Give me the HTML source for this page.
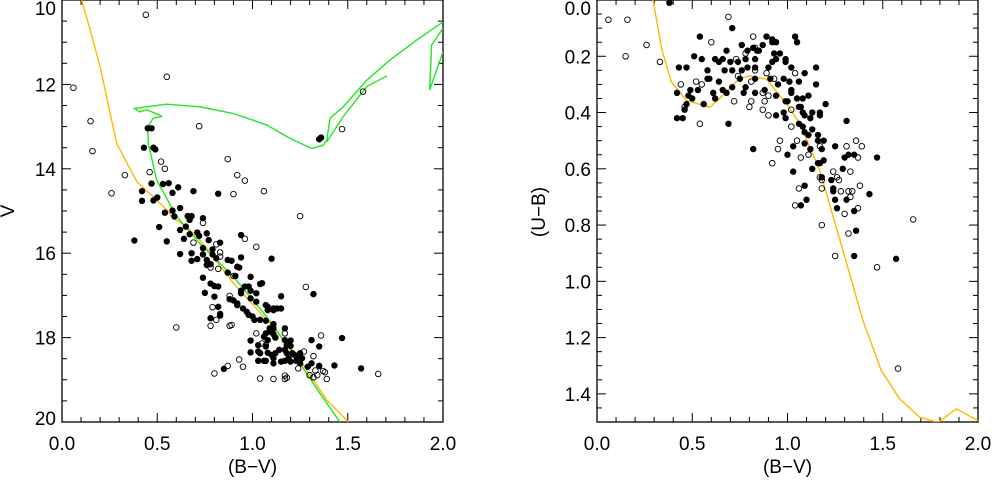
<!DOCTYPE html>
<html><head><meta charset="utf-8"><style>
body{margin:0;background:#fff;}
svg{display:block;font-family:"Liberation Sans",sans-serif;}
</style></head><body>
<svg id="c" width="992" height="481" viewBox="0 0 992 481"></svg>
<script>
const cmdFilled=[[.45,13.04],[.47,13.04],[.43,13.5],[.48,13.5],[.49,13.54],[1.35,13.3],[1.36,13.26],[.47,14.35],[.53,14.36],[.56,14.34],[.61,14.44],[.58,14.57],[.69,14.53],[.82,14.59],[.42,14.53],[.42,14.76],[.48,14.75],[.5,14.68],[.54,15.04],[.59,15.13],[.58,14.99],[.62,14.93],[.51,15.38],[.55,15.72],[.38,15.7],[.62,15.45],[.65,15.37],[.64,15.66],[.67,15.55],[.67,15.21],[.66,15.12],[.68,15.12],[.71,15.51],[.72,15.59],[.74,15.17],[.76,15.53],[.77,15.69],[.83,15.75],[.62,16.02],[.68,16.0],[.68,16.18],[.71,16.14],[.74,15.88],[.74,16.03],[.76,16.16],[.76,16.28],[.79,15.91],[.79,16.03],[.81,16.12],[.78,16.26],[.74,16.58],[.75,16.94],[.78,16.72],[.8,16.78],[.82,16.79],[.8,17.03],[.82,17.27],[.78,17.54],[.83,17.44],[.83,17.48],[.87,16.16],[.89,16.18],[.92,16.32],[.93,16.34],[.94,16.1],[.94,15.57],[.87,16.46],[.91,16.54],[.88,17.09],[.9,17.12],[.92,17.19],[.92,17.23],[.94,16.89],[.94,16.95],[.96,16.79],[.98,16.79],[.95,17.31],[.97,17.39],[.99,16.56],[.99,16.89],[.99,17.07],[1.0,17.5],[1.01,17.58],[.98,17.46],[1.02,16.95],[1.02,17.15],[1.04,16.73],[1.05,16.71],[1.1,16.13],[1.07,17.23],[1.08,17.27],[1.11,17.31],[1.08,17.35],[1.11,17.35],[1.13,17.31],[1.15,17.02],[1.15,17.31],[1.32,16.97],[1.04,17.58],[1.07,17.6],[1.09,17.78],[1.11,17.68],[1.11,17.78],[1.09,17.86],[1.07,17.9],[1.06,17.98],[1.08,18.06],[1.11,17.92],[1.12,18.0],[.99,18.07],[.99,18.35],[1.03,18.18],[1.03,18.33],[1.04,18.37],[1.07,18.21],[1.08,18.36],[1.1,18.41],[1.12,18.37],[1.14,18.29],[1.17,17.78],[1.17,18.06],[1.18,18.18],[1.2,18.07],[1.2,18.2],[1.17,18.29],[1.18,18.37],[1.21,18.37],[1.03,18.55],[1.06,18.55],[1.07,18.55],[1.11,18.61],[1.11,18.49],[1.15,18.57],[1.17,18.55],[1.19,18.49],[1.2,18.57],[.85,18.74],[1.22,18.41],[1.23,18.44],[1.25,18.37],[1.26,18.49],[1.23,18.55],[1.25,18.61],[1.29,18.69],[1.31,18.61],[1.31,18.06],[1.35,18.21],[1.35,18.67],[1.43,18.66],[1.47,18.01],[1.57,18.73]];
const cmdOpen=[[.44,10.35],[.55,11.82],[.06,12.08],[.15,12.87],[.16,13.58],[.72,12.99],[.33,14.15],[.26,14.58],[.46,14.08],[.52,13.83],[.54,14.0],[.87,13.77],[.92,14.15],[.96,14.28],[.9,14.6],[1.06,14.53],[1.25,15.12],[1.58,12.17],[1.47,13.06],[.74,15.28],[.69,15.75],[.81,15.79],[.83,15.98],[.83,16.08],[.96,15.66],[1.02,15.85],[.78,16.34],[.82,16.37],[.9,16.54],[.88,17.01],[.79,17.28],[.81,17.58],[.78,17.72],[.88,17.72],[.89,17.7],[.6,17.76],[1.28,16.8],[1.02,17.9],[1.05,18.14],[1.07,18.18],[1.17,17.9],[1.36,17.95],[1.27,18.33],[1.32,18.44],[.93,18.52],[.87,18.67],[.95,18.69],[.8,18.85],[1.04,18.97],[1.11,18.98],[1.17,18.9],[1.17,18.98],[1.18,18.95],[1.24,18.73],[1.3,18.89],[1.33,18.78],[1.34,18.89],[1.37,18.79],[1.38,18.82],[1.39,18.98],[1.32,18.94],[1.66,18.86]];
const cmdZams=[[.103,10],[.138,10.55],[.2,11.58],[.287,13.4],[.392,14.3],[.497,14.74],[.55,14.98],[.585,15.17],[.654,15.37],[.724,15.69],[.9,16.71],[1.075,17.58],[1.25,18.53],[1.39,19.48],[1.504,20]];
const cmdIso=[[1.459,20],[1.354,19.32],[1.249,18.61],[1.074,17.5],[.9,16.56],[.724,15.77],[.602,15.13],[.497,14.27],[.453,13.4],[.45,13.0],[.479,12.8],[.522,12.76],[.514,12.73],[.444,12.6],[.409,12.65],[.38,12.57],[.444,12.53],[.549,12.47],[.724,12.53],[.9,12.69],[1.074,12.96],[1.197,13.28],[1.311,13.52],[1.372,13.44],[1.39,13.32],[1.407,12.8],[1.477,12.53],[1.6,11.9],[1.722,11.42],[1.862,10.95],[2.0,10.52]];
const cmdAgb=[[2.0,10.67],[1.94,11.07],[1.93,12.13],[2.0,11.23]];
const cmdHb=[[1.39,13.36],[1.477,12.76],[1.6,12.05],[1.705,11.8]];
const ccFilled=[[.38,.01],[.71,.1],[.54,.13],[1.04,.13],[1.05,.15],[.76,.16],[.82,.17],[.87,.16],[.89,.13],[.92,.14],[.94,.15],[.92,.15],[.51,.2],[.55,.21],[.62,.21],[.68,.18],[.66,.21],[.7,.22],[.74,.22],[.78,.21],[.79,.18],[.84,.18],[.83,.21],[.85,.18],[.93,.19],[.96,.19],[.94,.21],[.99,.21],[.99,.22],[.92,.22],[.43,.24],[.47,.24],[.58,.25],[.64,.22],[.67,.25],[.71,.25],[.76,.25],[.79,.24],[.83,.24],[.9,.24],[1.02,.24],[1.09,.26],[1.15,.24],[.42,.33],[.49,.32],[.53,.32],[.5,.35],[.48,.34],[.56,.37],[.47,.37],[.46,.39],[.42,.42],[.45,.42],[.58,.28],[.59,.28],[.64,.29],[.61,.33],[.62,.35],[.66,.32],[.68,.33],[.71,.31],[.75,.28],[.78,.31],[.77,.33],[.83,.28],[.83,.33],[.88,.32],[.91,.28],[.94,.34],[.95,.3],[.98,.28],[1.01,.29],[1.02,.33],[1.02,.32],[1.06,.29],[.99,.36],[1.0,.36],[.98,.4],[.99,.42],[.94,.41],[1.05,.35],[1.08,.35],[1.11,.34],[1.15,.3],[.69,.44],[.82,.53],[1.06,.38],[1.07,.38],[1.08,.4],[1.09,.41],[1.13,.4],[1.17,.4],[1.17,.41],[1.2,.37],[1.06,.44],[1.08,.45],[1.12,.42],[1.13,.46],[1.11,.48],[1.09,.47],[1.09,.51],[1.12,.53],[1.16,.48],[1.16,.5],[1.19,.5],[1.18,.53],[1.16,.58],[1.17,.58],[1.19,.57],[1.03,.52],[1.0,.55],[1.03,.61],[1.13,.6],[1.18,.63],[1.09,.66],[1.1,.71],[1.07,.73],[1.25,.52],[1.31,.43],[1.3,.56],[1.32,.55],[1.35,.55],[1.47,.56],[1.29,.6],[1.23,.64],[1.24,.67],[1.24,.68],[1.25,.71],[1.31,.71],[1.26,.74],[1.35,.75],[1.36,.82],[1.43,.69],[1.35,.91],[1.57,.92]];
const ccOpen=[[.06,.07],[.16,.07],[.15,.2],[.26,.16],[.33,.22],[.69,.06],[.6,.15],[.82,.13],[.44,.3],[.52,.29],[.55,.3],[.54,.44],[.46,.38],[.73,.21],[.78,.19],[.83,.17],[.83,.25],[.74,.27],[.81,.29],[.72,.36],[.81,.36],[.8,.38],[.87,.33],[.88,.36],[.89,.26],[.9,.34],[.87,.39],[.9,.41],[.93,.28],[1.04,.26],[1.02,.39],[.96,.5],[.95,.53],[.92,.58],[1.02,.45],[1.05,.5],[1.07,.56],[1.11,.55],[1.06,.67],[1.04,.73],[1.17,.52],[1.17,.63],[1.18,.64],[1.18,.67],[1.18,.8],[1.24,.61],[1.26,.63],[1.27,.64],[1.28,.68],[1.31,.52],[1.33,.61],[1.32,.68],[1.34,.68],[1.33,.7],[1.3,.76],[1.32,.83],[1.36,.5],[1.37,.56],[1.39,.52],[1.38,.66],[1.37,.74],[1.25,.91],[1.47,.95],[1.66,.78],[1.58,1.31]];
const ccZams=[[.294,0],[.341,.178],[.39,.291],[.469,.356],[.591,.382],[.644,.35],[.749,.279],[.801,.27],[.889,.281],[.994,.368],[1.064,.439],[1.169,.605],[1.291,.89],[1.396,1.139],[1.492,1.317],[1.589,1.418],[1.694,1.483],[1.79,1.502],[1.886,1.453],[2.0,1.495]];
const xTicks=["0.0","0.5","1.0","1.5","2.0"];
const vTicks=["10","12","14","16","18","20"];
const ubTicks=["0.0","0.2","0.4","0.6","0.8","1.0","1.2","1.4"];

const NS="http://www.w3.org/2000/svg";
const svg=document.getElementById('c');
function mk(tag,attrs,parent){const e=document.createElementNS(NS,tag);for(const k in attrs)e.setAttribute(k,attrs[k]);(parent||svg).appendChild(e);return e;}

function panel(p){
  const g=mk('g',{});
  
  
  const sx=v=>p.x0+(v-p.xmin)/(p.xmax-p.xmin)*(p.x1-p.x0);
  const sy=v=>p.y0+(v-p.ymin)/(p.ymax-p.ymin)*(p.y1-p.y0);
  for(let i=0;i<=20;i++){const v=i*0.1,x=sx(v),L=(i%5==0)?9:5;
    mk('line',{x1:x,y1:p.y1,x2:x,y2:p.y1-L,stroke:'#000','stroke-width':1},g);
    mk('line',{x1:x,y1:p.y0,x2:x,y2:p.y0+L,stroke:'#000','stroke-width':1},g);}
  const n=Math.round((p.ymax-p.ymin)/p.minor);
  for(let i=0;i<=n;i++){const v=p.ymin+i*p.minor,y=sy(v),maj=Math.abs(v/p.major-Math.round(v/p.major))<1e-6,L=maj?9:5;
    mk('line',{x1:p.x0,y1:y,x2:p.x0+L,y2:y,stroke:'#000','stroke-width':1},g);
    mk('line',{x1:p.x1,y1:y,x2:p.x1-L,y2:y,stroke:'#000','stroke-width':1},g);}
  mk('rect',{x:p.x0,y:p.y0,width:p.x1-p.x0,height:p.y1-p.y0,fill:'none',stroke:'#000','stroke-width':1.3},g);
  xTicks.forEach(t=>{const e=mk('text',{x:sx(parseFloat(t)),y:p.y1+28,'text-anchor':'middle','font-size':19},g);e.textContent=t;
    
    });
  p.yt.forEach(t=>{let yy=Math.min(Math.max(sy(parseFloat(t))+7,p.y0+15),p.y1+3);const e=mk('text',{x:p.x0-6,y:yy,'text-anchor':'end','font-size':19},g);e.textContent=t;
    
    });
  const xl=mk('text',{x:(p.x0+p.x1)/2,y:473,'text-anchor':'middle','font-size':19},g);xl.textContent='(B−V)';
  
  
  const yl=mk('text',{x:0,y:0,'text-anchor':'middle','font-size':19,transform:`translate(${p.ylx},${p.yly}) rotate(-90)`},g);yl.textContent=p.ylabel;
  
  
  const cp='clip'+p.name;const cl=mk('clipPath',{id:cp},g);mk('rect',{x:p.x0,y:p.y0,width:p.x1-p.x0,height:p.y1-p.y0},cl);
  const pg=mk('g',{'clip-path':`url(#${cp})`},g);
  p.lines.forEach(l=>{const e=mk('polyline',{points:l.d.map(d=>sx(d[0])+','+sy(d[1])).join(' '),fill:'none',stroke:l.c,'stroke-width':1.4},pg);
    
    });
  p.filled.forEach(d=>{const e=mk('circle',{cx:sx(d[0]),cy:sy(d[1]),r:3.2,fill:'#000'},pg);
    
    });
  p.open.forEach(d=>{const e=mk('circle',{cx:sx(d[0]),cy:sy(d[1]),r:2.8,fill:'none',stroke:'#000','stroke-width':0.9},pg);
    
    });
}
panel({name:'cmd-panel',x0:62,x1:443,y0:0,y1:422,xmin:0,xmax:2,ymin:10,ymax:20,minor:0.5,major:2,yt:vTicks,ylabel:'V',ylx:14,yly:211,
  lines:[{d:cmdZams,c:'#ffb800',n:'zams-line'},{d:cmdIso,c:'#22e622',n:'isochrone-line'},{d:cmdAgb,c:'#22e622',n:'isochrone-agb'},{d:cmdHb,c:'#22e622',n:'isochrone-branch'}],filled:cmdFilled,open:cmdOpen});
panel({name:'color-color-panel',x0:597,x1:978,y0:0,y1:422,xmin:0,xmax:2,ymin:0,ymax:1.5,minor:0.05,major:0.2,yt:ubTicks,ylabel:'(U−B)',ylx:545,yly:212,
  lines:[{d:ccZams,c:'#ffb800',n:'zams-line'}],filled:ccFilled,open:ccOpen});
</script>
</body></html>
